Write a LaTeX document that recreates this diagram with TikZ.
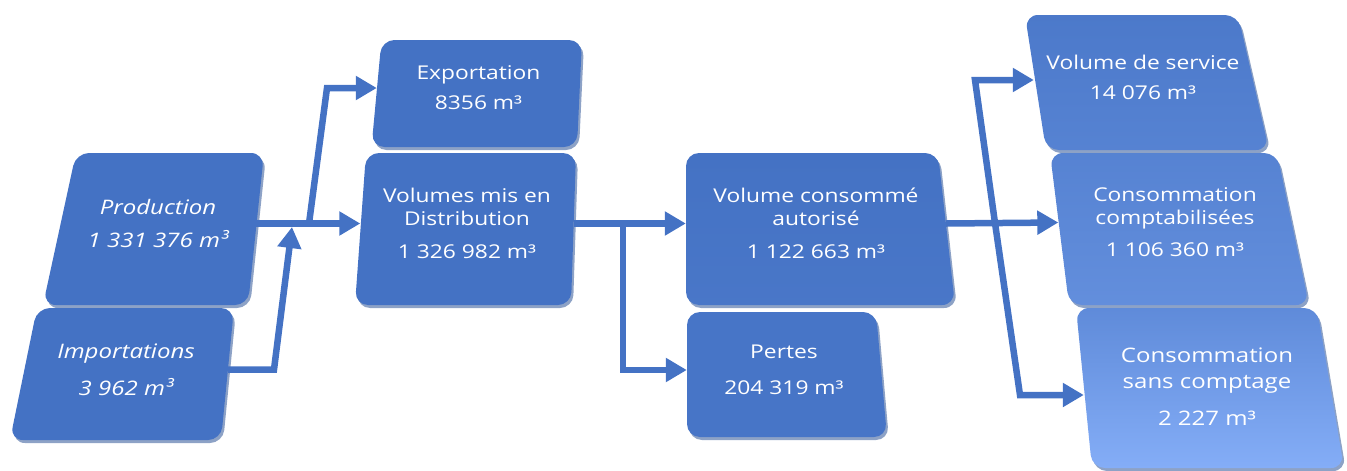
\documentclass[tikz,border=0pt]{standalone}
\usepackage{fontspec}
\setmainfont[FakeStretch=1.2]{Open Sans}
\usepackage{xcolor}
\usetikzlibrary{arrows.meta}

\definecolor{flowblue}{HTML}{4472C4}
\definecolor{flowlight}{HTML}{84ADF7}
\definecolor{flowdark}{HTML}{2F5597}

% skewed box: corners top left, top right, bottom right, bottom left, fill style
\newcommand{\flowbox}[5]{%
	\fill[flowdark, opacity=0.55, rounded corners=13pt, shift={(2,3)}] #1 -- #2 -- #3 -- #4 -- cycle;
	\path[#5, rounded corners=13pt] #1 -- #2 -- #3 -- #4 -- cycle;
}

\tikzset{
	boxtext/.style={text=white, align=center, inner sep=0pt, minimum height=20pt, font=\fontsize{19}{23}\selectfont},
	flowline/.style={draw=flowblue, line width=6.5pt},
	flowarrow/.style={flowline, -{Triangle[length=21pt,width=23pt]}}
}

\begin{document}
\begin{tikzpicture}[x=1pt, y=-1pt]
	\useasboundingbox (0,0) rectangle (1347,471);

	% boxes
	\flowbox{(76,153)}{(264,153)}{(248,305)}{(43,305)}{fill=flowblue}
	\flowbox{(37,308)}{(234,308)}{(221,440)}{(10,440)}{fill=flowblue}
	\flowbox{(381.5,40)}{(582,40)}{(577,147)}{(371.5,147)}{fill=flowblue}
	\flowbox{(366,153)}{(576,153)}{(571,305)}{(355,305)}{fill=flowblue}
	\flowbox{(686,153)}{(938,153)}{(955,305)}{(686,305)}{top color=flowblue, bottom color=flowblue!92!flowlight}
	\flowbox{(687,312)}{(876,312)}{(887,437)}{(687,437)}{fill=flowblue!95!flowlight}
	\flowbox{(1025,15)}{(1238,15)}{(1269,150)}{(1046,150)}{top color=flowblue!88!flowlight, bottom color=flowblue!72!flowlight}
	\flowbox{(1050,153)}{(1277,153)}{(1309,305)}{(1069,305)}{top color=flowblue!72!flowlight, bottom color=flowblue!52!flowlight}
	\flowbox{(1076,308)}{(1317,308)}{(1344,468)}{(1092,468)}{top color=flowblue!58!flowlight, bottom color=flowlight}

	% texts
	\node[boxtext, minimum width=194pt, font=\fontsize{20}{23}\selectfont\itshape] (prod) at (158,223.5) {Production\\[10pt]1 331 376 m³};
	\node[boxtext, minimum width=204pt, font=\fontsize{20}{23}\selectfont\itshape] (imp) at (126,369.5) {Importations\\[14pt]3 962 m³};
	\node[boxtext, minimum width=203pt] (exp) at (478.5,88) {Exportation\\[7pt]8356 m³};
	\node[boxtext, minimum width=213pt] (dist) at (467,223.5) {Volumes mis en\\Distribution\\[10pt]1 326 982 m³};
	\node[boxtext, minimum width=260pt] (auth) at (816,223.5) {Volume consommé\\autorisé\\[10pt]1 122 663 m³};
	\node[boxtext, minimum width=194pt] (loss) at (784,370) {Pertes\\[13pt]204 319 m³};
	\node[boxtext, minimum width=218pt] (serv) at (1143,77) {Volume de service\\[7pt]14 076 m³};
	\node[boxtext, minimum width=233pt] (metr) at (1175,222.5) {Consommation\\comptabilisées\\[9pt]1 106 360 m³};
	\node[boxtext, minimum width=246pt, font=\fontsize{20}{26}\selectfont] (unmetr) at (1207,386.5) {Consommation\\sans comptage\\[11pt]2 227 m³};

	% junctions
	\coordinate (expsplit) at (309,223.5);
	\coordinate (expturn) at (327,88);
	\coordinate (impturn) at (274,370);
	\coordinate (impin) at (292,227);
	\coordinate (losssplit) at (623,223.5);
	\coordinate (srvsplit) at (995,223);
	\coordinate (srvturn) at (975,80);
	\coordinate (unmturn) at (1020,395);

	% connectors
	\draw[flowarrow] (prod.east) -- (dist.west);
	\draw[flowarrow] (expsplit) -- (expturn) -- (exp.west);
	\draw[flowarrow] (imp.east) -- (imp.east -| impturn) -- (impin);
	\draw[flowarrow] (dist.east) -- (auth.west);
	\draw[flowarrow] (losssplit) |- (loss.west);
	\draw[flowarrow] (auth.east) -- (metr.west);
	\draw[flowarrow] (srvsplit) -- (srvturn) -- ([yshift=-3pt]serv.west);
	\draw[flowarrow] (srvsplit) -- (unmturn) -- ([yshift=-8.5pt]unmetr.west);
\end{tikzpicture}
\end{document}
